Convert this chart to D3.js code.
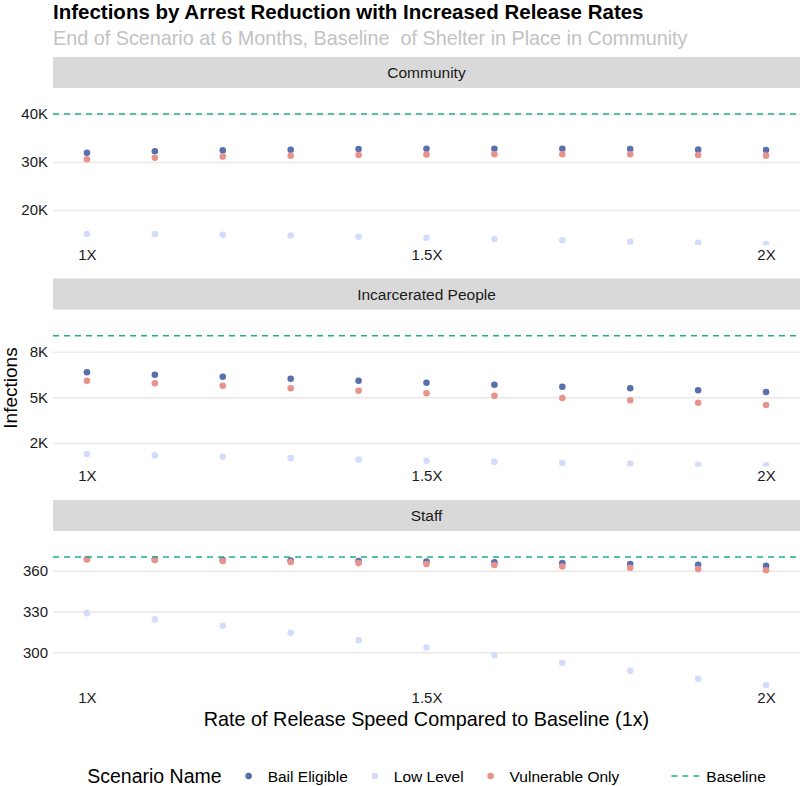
<!DOCTYPE html>
<html>
<head>
<meta charset="utf-8">
<script src="https://cdn.jsdelivr.net/npm/d3@7"></script>
<style>
	body { margin: 0; background: #fff; }
	svg { font-family: "Liberation Sans", Arial, Helvetica, sans-serif; }
</style>
</head>
<body>
<div id="chart"></div>
<script>
// release speed multipliers on the x axis
var rates = [1, 1.1, 1.2, 1.3, 1.4, 1.5, 1.6, 1.7, 1.8, 1.9, 2];
var rateTicks = [1, 1.5, 2];
var rateTickLabels = ["1X", "1.5X", "2X"];

var facets = ["Community", "Incarcerated People", "Staff"];
var scenarios = ["Bail Eligible", "Low Level", "Vulnerable Only"];

// infections at end of scenario, one array per facet and scenario
var communityBail = [31940, 32230, 32420, 32560, 32700, 32770, 32770, 32770, 32700, 32570, 32500];
var communityLow = [15000, 14970, 14850, 14680, 14440, 14230, 13960, 13700, 13400, 13190, 12920];
var communityVuln = [30560, 30900, 31120, 31300, 31450, 31560, 31600, 31620, 31600, 31460, 31320];

var incarceratedBail = [6368, 6236, 6127, 6017, 5908, 5799, 5689, 5580, 5492, 5383, 5290];
var incarceratedLow = [1898, 1820, 1751, 1670, 1590, 1532, 1465, 1410, 1365, 1313, 1280];
var incarceratedVuln = [5900, 5770, 5635, 5492, 5361, 5219, 5088, 4962, 4836, 4705, 4579];

var staffBail = [368.6, 368.3, 367.9, 367.5, 367.1, 366.7, 366.2, 365.6, 364.9, 364.4, 363.7];
var staffLow = [328.8, 324.2, 319.5, 314.3, 308.8, 303.5, 297.8, 292.2, 286.4, 280.5, 275.7];
var staffVuln = [368.3, 367.8, 367.1, 366.4, 365.6, 364.9, 364.2, 363.1, 362.2, 361.2, 360.3];

// baseline (shelter in place) per facet
var baselineValues = [40000, 8370, 370];

// y axis per facet
var yLimits = [[12708, 45417], [1214, 9803], [273.75, 389.2]];
var yTicks = [[20000, 30000, 40000], [2500, 5000, 7500], [300, 330, 360]];
var yTickLabels = [["20K", "30K", "40K"], ["2K", "5K", "8K"], ["300", "330", "360"]];

var seriesByFacet = [
	[communityBail, communityLow, communityVuln],
	[incarceratedBail, incarceratedLow, incarceratedVuln],
	[staffBail, staffLow, staffVuln]
];

var colors = {"Bail Eligible": "#5a6fae", "Low Level": "#d3ddfb", "Vulnerable Only": "#e8928d"};
var baselineColor = "#1faf8a";
var gridColor = "#ebe8e6";

var width = 800, height = 786;
var plotLeft = 53, plotRight = 800;
var stripTop0 = 57, stripH = 31, panelH = 157, facetStep = 221.5;

var svg = d3.select("#chart").append("svg")
	.attr("width", width)
	.attr("height", height);

// titles
svg.append("text")
	.attr("x", plotLeft)
	.attr("y", 19)
	.style("font-size", "20.5px")
	.style("font-weight", "bold")
	.style("fill", "#000")
	.text("Infections by Arrest Reduction with Increased Release Rates");

svg.append("text")
	.attr("x", plotLeft)
	.attr("y", 45)
	.style("font-size", "19.8px")
	.style("fill", "#c2c2c2")
	.style("white-space", "pre")
	.text("End of Scenario at 6 Months, Baseline  of Shelter in Place in Community");

var x = d3.scaleLinear().domain([0.95, 2.05]).range([plotLeft, plotRight]);

var defs = svg.append("defs");

facets.forEach(function(facet, i) {
	var stripTop = stripTop0 + i * facetStep;
	var top = stripTop + stripH;
	var bottom = top + panelH;

	var y = d3.scaleLinear().domain(yLimits[i]).range([bottom, top]);

	var g = svg.append("g").attr("class", "facet");

	// strip
	g.append("rect")
		.attr("x", plotLeft)
		.attr("y", stripTop)
		.attr("width", plotRight - plotLeft)
		.attr("height", stripH)
		.style("fill", "#d9d9d9");
	g.append("text")
		.attr("x", (plotLeft + plotRight) / 2)
		.attr("y", stripTop + stripH / 2)
		.attr("text-anchor", "middle")
		.attr("dominant-baseline", "central")
		.style("font-size", "15.5px")
		.style("fill", "#1a1a1a")
		.text(facet);

	// grid + y labels
	var yAxis = d3.axisLeft(y)
		.tickValues(yTicks[i])
		.tickSize(-(plotRight - plotLeft))
		.tickPadding(5)
		.tickFormat(function(d, k) { return yTickLabels[i][k]; });
	var ya = g.append("g")
		.attr("transform", "translate(" + plotLeft + ",0)")
		.call(yAxis);
	ya.select(".domain").remove();
	ya.selectAll(".tick line").style("stroke", gridColor).style("stroke-width", 1.4);
	ya.selectAll(".tick text")
		.style("font-size", "15px")
		.style("fill", "#1a1a1a")
		.style("font-family", "inherit");

	// x labels
	var xAxis = d3.axisBottom(x)
		.tickValues(rateTicks)
		.tickSize(0)
		.tickPadding(4)
		.tickFormat(function(d, k) { return rateTickLabels[k]; });
	var xa = g.append("g")
		.attr("transform", "translate(0," + bottom + ")")
		.call(xAxis);
	xa.select(".domain").remove();
	xa.selectAll(".tick text")
		.style("font-size", "15px")
		.style("fill", "#1a1a1a")
		.style("font-family", "inherit");

	// clip to panel
	defs.append("clipPath").attr("id", "clip" + i)
		.append("rect")
		.attr("x", plotLeft)
		.attr("y", top)
		.attr("width", plotRight - plotLeft)
		.attr("height", panelH);

	var marks = g.append("g").attr("clip-path", "url(#clip" + i + ")");

	scenarios.forEach(function(s, j) {
		var vals = seriesByFacet[i][j];
		marks.selectAll(".pt" + j)
			.data(rates)
			.enter()
			.append("circle")
			.attr("class", "pt" + j)
			.attr("cx", function(d) { return x(d); })
			.attr("cy", function(d, k) { return y(vals[k]); })
			.attr("r", 3.3)
			.style("fill", colors[s]);
	});

	marks.append("line")
		.attr("x1", plotLeft)
		.attr("x2", plotRight)
		.attr("y1", y(baselineValues[i]))
		.attr("y2", y(baselineValues[i]))
		.style("stroke", baselineColor)
		.style("stroke-width", 1.5)
		.style("stroke-dasharray", "6,5");
});

// axis titles
svg.append("text")
	.attr("x", (plotLeft + plotRight) / 2)
	.attr("y", 726)
	.attr("text-anchor", "middle")
	.style("font-size", "19.8px")
	.style("fill", "#000")
	.text("Rate of Release Speed Compared to Baseline (1x)");

var panelMid = (stripTop0 + stripH + stripTop0 + 2 * facetStep + stripH + panelH) / 2;
svg.append("text")
	.attr("transform", "translate(17," + panelMid + ") rotate(-90)")
	.attr("text-anchor", "middle")
	.style("font-size", "19px")
	.style("fill", "#000")
	.text("Infections");

// legend
var legendY = 776;
var legend = svg.append("g");
var cx = 0;
var lt = legend.append("text")
	.attr("x", cx)
	.attr("y", legendY)
	.attr("dominant-baseline", "central")
	.style("font-size", "19.5px")
	.text("Scenario Name");
cx += lt.node().getComputedTextLength();

scenarios.forEach(function(s) {
	cx += 27;
	legend.append("circle")
		.attr("cx", cx)
		.attr("cy", legendY)
		.attr("r", 3.3)
		.style("fill", colors[s]);
	cx += 19;
	var t = legend.append("text")
		.attr("x", cx)
		.attr("y", legendY)
		.attr("dominant-baseline", "central")
		.style("font-size", "15.5px")
		.text(s);
	cx += t.node().getComputedTextLength();
});

cx += 52;
legend.append("line")
	.attr("x1", cx)
	.attr("x2", cx + 28)
	.attr("y1", legendY)
	.attr("y2", legendY)
	.style("stroke", baselineColor)
	.style("stroke-width", 1.5)
	.style("stroke-dasharray", "6,5");
cx += 35;
var bt = legend.append("text")
	.attr("x", cx)
	.attr("y", legendY)
	.attr("dominant-baseline", "central")
	.style("font-size", "15.5px")
	.text("Baseline");
cx += bt.node().getComputedTextLength();

legend.attr("transform", "translate(" + ((plotLeft + plotRight) / 2 - cx / 2) + ",0)");
</script>
</body>
</html>
